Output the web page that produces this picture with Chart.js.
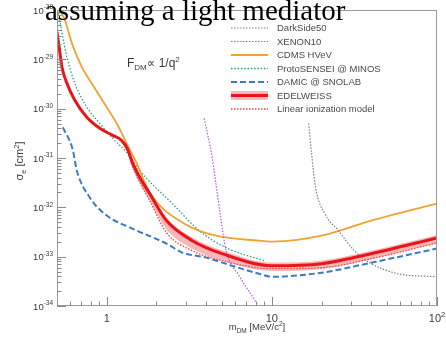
<!DOCTYPE html>
<html>
<head>
<meta charset="utf-8">
<script src="https://cdn.jsdelivr.net/npm/chart.js@4.4.0/dist/chart.umd.min.js"></script>
<style>
  html, body { margin: 0; padding: 0; background: #fff; }
  canvas { display: block; }
</style>
</head>
<body>
<canvas id="limits" width="446" height="340"></canvas>
<script>
// DM mass in MeV/c^2, cross sections in cm^2
var massDarkSide = [16.7, 17.4, 18.4, 20.9, 25.3, 31.6, 40, 58.2, 100];
var sigmaDarkSide = [5.05e-31, 1.24e-31, 2.52e-32, 7.48e-33, 3.37e-33, 1.32e-33, 7.21e-34, 4.51e-34, 3.92e-34];

var massXenon = [3.89, 4.35, 4.6, 4.93, 5.28, 6.33, 8.12, 8.6];
var sigmaXenon = [6.38e-31, 1.03e-31, 2.77e-32, 5.4e-33, 1.32e-33, 4.11e-34, 1.11e-34, 7.9e-35];

var massCdms = [0.5, 0.521, 0.558, 0.615, 0.707, 0.847, 1.0, 1.149, 1.32, 1.52, 1.82, 2.87, 4.6, 8.35, 10, 20, 40, 100];
var sigmaCdms = [1.6e-28, 1.0e-28, 6.27e-29, 2.13e-29, 6.93e-30, 2.6e-30, 1.07e-30, 5.05e-31, 1.98e-31, 7.78e-32, 2.0e-32, 4.91e-33, 2.67e-33, 2.11e-33, 2.02e-33, 2.67e-33, 5.4e-33, 1.19e-32];

var massSensei = [0.507, 0.536, 0.574, 0.641, 0.758, 0.908, 1.117, 1.32, 1.58, 2.5, 3.63, 5.28, 8.95];
var sigmaSensei = [1.0e-28, 3.41e-29, 1.11e-29, 3.28e-30, 1.07e-30, 5.05e-31, 2.28e-31, 1.3e-31, 5.6e-32, 1.19e-32, 3.37e-33, 1.52e-33, 8.29e-34];

var massDamic = [0.543, 0.624, 0.659, 0.79, 1.0, 1.43, 2.3, 2.87, 4.0, 5.74, 8.35, 10, 20, 40, 100];
var sigmaDamic = [4.19e-31, 1.43e-31, 5.6e-32, 1.58e-32, 6.81e-33, 3.71e-33, 1.84e-33, 1.21e-33, 9.55e-34, 6.56e-34, 4.51e-34, 3.92e-34, 4.73e-34, 7.55e-34, 1.46e-33];

var massEdw = [0.5, 0.518, 0.536, 0.574, 0.641, 0.758, 0.908, 1.087, 1.23, 1.34, 1.43, 1.6, 1.82, 2.3, 3.3, 5, 10, 20, 40, 100];
var sigmaEdw = [3.57e-29, 1.54e-29, 6.93e-30, 3.28e-30, 1.48e-30, 6.68e-31, 4.0e-31, 2.88e-31, 2.28e-31, 1.5e-31, 8.15e-32, 3.85e-32, 1.9e-32, 5.4e-33, 2.11e-33, 1.15e-33, 6.56e-34, 7.21e-34, 1.15e-33, 2.4e-33];

// EDELWEISS uncertainty band
var massBand = [1.34, 1.43, 1.6, 1.82, 2.3, 3.3, 5, 10, 20, 40, 100];
var bandHigh = [1.75e-31, 9.4e-32, 4.4e-32, 2.2e-32, 6.17e-33, 2.45e-33, 1.35e-33, 7.59e-34, 8.32e-34, 1.32e-33, 2.75e-33];
var bandLow = [1.25e-31, 6.2e-32, 2.9e-32, 1.4e-32, 3.55e-33, 1.45e-33, 8.32e-34, 5.13e-34, 5.62e-34, 8.91e-34, 1.86e-33];

var massLinear = [0.5, 0.518, 0.536, 0.574, 0.641, 0.758, 0.908, 1.087, 1.23, 1.34, 1.43, 1.6, 1.82, 2.3, 3.3, 5, 10, 20, 40, 100];
var sigmaLinear = [3.57e-29, 1.54e-29, 6.93e-30, 3.28e-30, 1.48e-30, 6.68e-31, 4.0e-31, 2.88e-31, 2.28e-31, 1.3e-31, 7.0e-32, 3.05e-32, 1.37e-32, 3.08e-33, 1.32e-33, 8.29e-34, 5.7e-34, 5.97e-34, 9.09e-34, 1.9e-33];

var legendNames = ['DarkSide50', 'XENON10', 'CDMS HVeV', 'ProtoSENSEI @ MINOS', 'DAMIC @ SNOLAB', 'EDELWEISS', 'Linear ionization model'];

var yTickValues = [1e-34, 1e-33, 1e-32, 1e-31, 1e-30, 1e-29, 1e-28];
var yTickLabels = ['10^-34', '10^-33', '10^-32', '10^-31', '10^-30', '10^-29', '10^-28'];
var xTickValues = [1, 10, 100];
var xTickLabels = ['1', '10', '10^2'];

var SANS = "'Liberation Sans', Arial, 'DejaVu Sans', sans-serif";
var SERIF = "'Liberation Serif', 'Times New Roman', serif";
var BAND_COLOR = 'rgba(246, 96, 96, 0.45)';
var TEXT_COLOR = '#3a3a3a';

function points(xs, ys) {
  return xs.map(function (x, i) { return { x: x, y: ys[i] }; });
}

// parts: [text, size, rise]
function drawRich(ctx, parts, x, y, align) {
  var total = 0;
  parts.forEach(function (p) {
    ctx.font = p[1] + 'px ' + SANS;
    total += ctx.measureText(p[0]).width;
  });
  var cx = align === 'right' ? x - total : (align === 'center' ? x - total / 2 : x);
  ctx.textAlign = 'left';
  ctx.textBaseline = 'alphabetic';
  parts.forEach(function (p) {
    ctx.font = p[1] + 'px ' + SANS;
    ctx.fillText(p[0], cx, y - p[2]);
    cx += ctx.measureText(p[0]).width;
  });
}

function powerParts(label, size) {
  var s = label.split('^');
  var parts = [[s[0], size, 0]];
  if (s[1]) parts.push([s[1], size * 0.68, size * 0.45]);
  return parts;
}

var decorations = {
  id: 'decorations',
  afterDraw: function (chart) {
    var ctx = chart.ctx;
    var area = chart.chartArea;
    var xs = chart.scales.x;
    var ys = chart.scales.y;
    ctx.save();

    // frame
    ctx.strokeStyle = '#9a9a9a';
    ctx.lineWidth = 1;
    ctx.setLineDash([]);
    ctx.strokeRect(area.left + 0.5, area.top + 0.5, area.right - area.left - 1, area.bottom - area.top - 1);

    // inward tick marks
    ctx.strokeStyle = '#8a8a8a';
    ctx.beginPath();
    var e, k, v, p;
    for (e = -34; e < -28; e++) {
      for (k = 1; k <= 9; k++) {
        v = k * Math.pow(10, e);
        p = Math.round(ys.getPixelForValue(v)) + 0.5;
        ctx.moveTo(area.left, p);
        ctx.lineTo(area.left + (k === 1 ? 9 : 4.5), p);
      }
    }
    for (e = -1; e <= 2; e++) {
      for (k = 1; k <= 9; k++) {
        v = k * Math.pow(10, e);
        if (v < 0.5 || v > 100) continue;
        p = Math.round(xs.getPixelForValue(v)) + 0.5;
        ctx.moveTo(p, area.bottom);
        ctx.lineTo(p, area.bottom - (k === 1 ? 9 : 4.5));
      }
    }
    ctx.stroke();

    // tick labels
    ctx.fillStyle = TEXT_COLOR;
    yTickValues.forEach(function (val, i) {
      drawRich(ctx, powerParts(yTickLabels[i], 9.5), area.left - 4, ys.getPixelForValue(val) + 3.5, 'right');
    });
    xTickValues.forEach(function (val, i) {
      drawRich(ctx, powerParts(xTickLabels[i], 11), xs.getPixelForValue(val), area.bottom + 16, 'center');
    });

    // axis titles
    drawRich(ctx, [['m', 9.5, 0], ['DM', 6.5, -2.5], [' [MeV/c', 9.5, 0], ['2', 6.5, 4], [']', 9.5, 0]], 257, 330, 'center');
    ctx.save();
    ctx.translate(19, 161);
    ctx.rotate(-Math.PI / 2);
    drawRich(ctx, [['\u03c3', 11, 0], ['e', 7.5, -3], [' [cm', 11, 0], ['2', 7.5, 4.5], [']', 11, 0]], 0, 4, 'center');
    ctx.restore();

    // form factor note
    drawRich(ctx, [['F', 12, 0], ['DM', 8, -3], ['\u221d 1/q', 12, 0], ['2', 8, 5]], 127, 67, 'left');

    // legend
    var lx0 = 231, lx1 = 268, tx = 277, ly = 28, step = 13.5;
    legendNames.forEach(function (name, i) {
      var ds = chart.data.datasets.filter(function (d) { return d.label === name; })[0];
      var y = ly + i * step;
      if (name === 'EDELWEISS') {
        ctx.fillStyle = BAND_COLOR;
        ctx.fillRect(lx0, y - 4.5, lx1 - lx0, 9);
      }
      ctx.strokeStyle = ds.borderColor;
      ctx.lineWidth = ds.borderWidth;
      ctx.setLineDash(ds.borderDash || []);
      ctx.beginPath();
      ctx.moveTo(lx0, y);
      ctx.lineTo(lx1, y);
      ctx.stroke();
      ctx.setLineDash([]);
      ctx.fillStyle = '#4a4a4a';
      ctx.font = '9.5px ' + SANS;
      ctx.textAlign = 'left';
      ctx.textBaseline = 'middle';
      ctx.fillText(name, tx, y + 0.5);
    });

    // headline
    ctx.fillStyle = '#000';
    ctx.font = '29px ' + SERIF;
    ctx.textAlign = 'left';
    ctx.textBaseline = 'alphabetic';
    ctx.fillText('assuming a light mediator', 45, 20);

    ctx.restore();
  }
};

new Chart(document.getElementById('limits'), {
  type: 'line',
  data: {
    datasets: [
      {
        label: 'EDELWEISS',
        data: points(massEdw, sigmaEdw),
        borderColor: '#e8161c',
        borderWidth: 3,
        order: 0
      },
      {
        label: 'Linear ionization model',
        data: points(massLinear, sigmaLinear),
        borderColor: '#f04444',
        borderWidth: 1.3,
        borderDash: [1.5, 1.5],
        order: 1
      },
      {
        label: 'DarkSide50',
        data: points(massDarkSide, sigmaDarkSide),
        borderColor: '#808080',
        borderWidth: 1.2,
        borderDash: [1.5, 1.5],
        order: 2
      },
      {
        label: 'XENON10',
        data: points(massXenon, sigmaXenon),
        borderColor: '#b45ae0',
        borderWidth: 1.2,
        borderDash: [1.5, 1.5],
        order: 2
      },
      {
        label: 'CDMS HVeV',
        data: points(massCdms, sigmaCdms),
        borderColor: '#f2a232',
        borderWidth: 1.8,
        order: 2
      },
      {
        label: 'ProtoSENSEI @ MINOS',
        data: points(massSensei, sigmaSensei),
        borderColor: '#22a878',
        borderWidth: 1.3,
        borderDash: [1.5, 1.8],
        order: 2
      },
      {
        label: 'DAMIC @ SNOLAB',
        data: points(massDamic, sigmaDamic),
        borderColor: '#3a7cc8',
        borderWidth: 2,
        borderDash: [6, 3],
        order: 2
      },
      {
        label: 'EDELWEISS band high',
        data: points(massBand, bandHigh),
        borderWidth: 0,
        borderColor: 'rgba(0,0,0,0)',
        order: 10
      },
      {
        label: 'EDELWEISS band low',
        data: points(massBand, bandLow),
        borderWidth: 0,
        borderColor: 'rgba(0,0,0,0)',
        backgroundColor: BAND_COLOR,
        fill: '-1',
        order: 10
      }
    ]
  },
  options: {
    responsive: false,
    animation: false,
    layout: { padding: { top: 10, right: 9, left: 0, bottom: 0 } },
    elements: {
      point: { radius: 0 },
      line: { cubicInterpolationMode: 'monotone' }
    },
    plugins: {
      legend: { display: false },
      tooltip: { enabled: false },
      title: { display: false }
    },
    scales: {
      x: {
        type: 'logarithmic',
        min: 0.5,
        max: 100,
        grid: { display: false, drawTicks: false },
        border: { display: false },
        ticks: { display: false },
        afterFit: function (s) { s.height = 34; }
      },
      y: {
        type: 'logarithmic',
        min: 1e-34,
        max: 1e-28,
        grid: { display: false, drawTicks: false },
        border: { display: false },
        ticks: { display: false },
        afterFit: function (s) { s.width = 57; }
      }
    }
  },
  plugins: [decorations]
});
</script>
</body>
</html>
